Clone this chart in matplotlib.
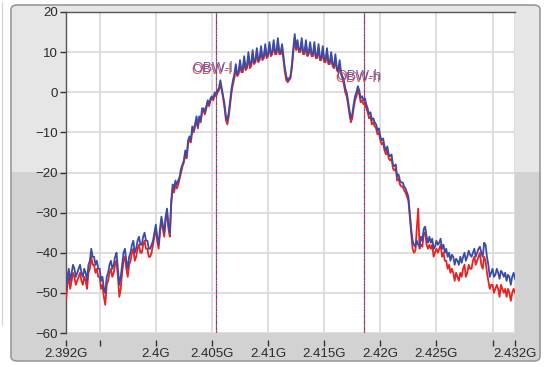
import numpy as np
import matplotlib
matplotlib.use("Agg")
import matplotlib.pyplot as plt
from matplotlib.patches import FancyBboxPatch, Rectangle
from matplotlib.ticker import FixedLocator, FuncFormatter
from matplotlib.transforms import offset_copy

plt.rcParams["font.family"] = ["Liberation Sans", "DejaVu Sans"]

# spectrum sampled every 0.125 MHz from 2.392 GHz to 2.432 GHz
freq_ghz = np.linspace(2.392, 2.432, 321)

trace_blue = [
    -49, -46, -44, -47, -45, -43, -44, -46, -45, -44, -43, -45, -46, -44, -45, -47, -43, -42, -39, -41,
    -41, -43, -42, -44, -44, -47, -46, -49, -50, -46, -45, -43, -42, -44, -43, -41, -40, -44, -48, -46,
    -43, -40, -39, -42, -44, -41, -40, -38, -37, -40, -39, -37, -36, -38, -38, -36, -35, -37, -37, -39,
    -39, -38, -37, -35, -33, -36, -38, -34, -31, -33, -35, -31, -29, -33, -35, -27, -23, -24, -22, -23,
    -22, -21, -19, -18, -17, -14.5, -16, -12, -11, -12, -8.5, -9.5, -8, -6, -8.5, -6, -7, -4, -4, -5,
    -3.5, -2, -3, -1.5, -1, -1.5, 0, -0.5, 0.5, 1, 3, 1, -1, -3, -6, -7, -5, -2, 1, 3,
    4.5, 7, 4.5, 5, 8, 5.5, 6, 9, 6, 6.5, 10, 7, 7, 10.5, 7.5, 8, 11, 8, 8.5, 11.5,
    8.5, 9, 12, 9, 9.5, 12.5, 9.5, 10, 13, 10, 10, 13.5, 10, 10, 12, 9, 6, 4, 3, 3.5,
    4, 7, 11, 14.5, 11, 13, 10.5, 10.5, 13.5, 10, 10, 13, 9.5, 10, 12.5, 9.5, 9.5, 12.5, 9, 9,
    12, 8.5, 8.5, 11.5, 8, 8, 11, 7.5, 7.5, 10, 7, 6.5, 9.5, 6, 5.5, 8, 5, 4, 3, 1,
    0, -2, -4.5, -6.5, -5.5, -3, -1, 0, 1.5, 0.5, -1.5, -1, -2, -1.5, -3, -4, -5.5, -5, -7, -6.5,
    -7.5, -8, -9.5, -9, -11, -12, -11.5, -13.5, -14.5, -13.5, -15.5, -16, -15.5, -18, -18.5, -18, -21, -20.5, -22, -22.5,
    -22.5, -23.5, -24, -25, -26, -30, -34, -37, -38, -38.5, -37, -38, -38.5, -36, -37, -34, -33.5, -36, -37.5, -36,
    -37.5, -36.5, -39, -38.5, -37, -38, -37.5, -36.5, -39, -38, -40, -39, -41, -40, -42, -40.5, -41, -43, -41.5, -42,
    -43, -41, -42.5, -41, -40, -42, -41, -39.5, -40.5, -41, -40, -39, -41, -40, -39, -38.5, -40, -41, -37.5, -38,
    -41, -43, -46, -45, -44, -46, -45.5, -44, -45, -46.5, -44.5, -45, -46, -45, -47, -45.5, -46, -48, -46, -45,
    -46.5,
]

trace_red = [
    -52, -48, -46, -49, -47, -45, -46, -48, -47, -46, -45, -47, -48, -46, -47, -49, -45, -44, -41, -43,
    -43, -45, -44, -46, -46, -49, -48, -51, -53, -48, -47, -45, -44, -46, -45, -43, -42, -46, -51, -49,
    -45, -42, -41, -44, -46, -43, -42, -40, -39, -42, -41, -39, -38, -40, -40, -38, -37, -39, -39, -41,
    -41, -40, -38, -36, -34, -37, -39, -35, -32, -34, -36, -32, -30, -34, -36, -28, -24, -25, -23, -24,
    -23, -21.5, -20, -18.5, -17.5, -15.5, -16.5, -13, -11.5, -12.5, -9.5, -10, -8.5, -7, -9, -6.5, -7.5, -5, -4.5, -5.5,
    -4, -2.5, -3.5, -2, -1.5, -2, -0.5, -1, 0, 0.5, 2, 0.5, -1.5, -4, -7, -8, -6, -3, 0, 2,
    3.5, 6, 4, 4.5, 7, 5, 5, 8, 5.5, 6, 9, 6, 6.5, 9.5, 7, 7.5, 10, 7.5, 8, 10.5,
    8, 8.5, 11, 8.5, 9, 11.5, 9, 9.5, 12, 9.5, 9.5, 12.5, 9.5, 9.5, 11, 8, 5, 3, 2.5, 3,
    3.5, 6, 10, 13.5, 10.5, 12, 10, 10, 12.5, 9.5, 9.5, 12, 9, 9.5, 11.5, 9, 9, 11.5, 8.5, 8.5,
    11, 8, 8, 10.5, 7.5, 7.5, 10, 7, 7, 9, 6.5, 6, 8.5, 5.5, 5, 7, 4.5, 3.5, 2, 0,
    -1, -3, -5.5, -7.5, -6.5, -4, -2, -1, 0.5, -0.5, -2.5, -2, -3, -2.5, -4, -5, -6.5, -6, -8, -7.5,
    -8.5, -9, -10.5, -10, -12, -13, -12.5, -14.5, -15.5, -14.5, -16.5, -17, -16.5, -19, -19.5, -19, -22, -21.5, -23, -23.5,
    -23.5, -24.5, -25, -26, -27, -31, -35, -39, -40, -39.5, -34, -29, -39, -38, -38.5, -35, -35, -38, -39, -38,
    -39, -38, -41, -40, -39, -40, -39, -38, -41, -40, -42, -42, -44, -43, -45, -44, -45, -47, -45, -46,
    -47, -45, -46, -44, -43, -46, -45, -43, -44, -44, -42, -41, -43, -42, -41, -40, -43, -44, -41, -42,
    -45, -47, -49, -48, -48, -50, -49, -48, -49, -51, -48, -49, -50, -49, -51, -49, -50, -52, -50, -49,
    -50,
]

obw_freq = [2.4054, 2.41857]
obw_labels = ["OBW-l", "OBW-h"]
obw_label_y = [6.0, 4.0]
obw_label_x = [2.40325, 2.41605]

x_ticks = [2.392, 2.395, 2.4, 2.405, 2.41, 2.415, 2.42, 2.425, 2.43, 2.432]
x_labels = {2.392: "2.392G", 2.4: "2.4G", 2.405: "2.405G", 2.41: "2.41G",
            2.415: "2.415G", 2.42: "2.42G", 2.425: "2.425G", 2.432: "2.432G"}
y_ticks = [-60, -50, -40, -30, -20, -10, 0, 10, 20]

W, H = 545, 367
fig = plt.figure(figsize=(W / 100, H / 100), dpi=100)
fig.patch.set_facecolor("white")


# panel frame (pixel coords converted to figure fraction)
def fx(px):
    return px / W


def fy(py):
    return 1 - py / H


dark = FancyBboxPatch((fx(11), fy(361)), fx(529), (361 - 5) / H,
                      boxstyle="round,pad=0,rounding_size=0.012",
                      transform=fig.transFigure, facecolor="#d2d2d2",
                      edgecolor="none", zorder=-10)
fig.patches.append(dark)
light_top = FancyBboxPatch((fx(11), fy(60)), fx(529), 55 / H,
                           boxstyle="round,pad=0,rounding_size=0.012",
                           transform=fig.transFigure, facecolor="#e6e6e6",
                           edgecolor="none", zorder=-9)
fig.patches.append(light_top)
light_mid = Rectangle((fx(11), fy(172)), fx(529), (172 - 30) / H,
                      transform=fig.transFigure, facecolor="#e6e6e6",
                      edgecolor="none", zorder=-9)
fig.patches.append(light_mid)
border = FancyBboxPatch((fx(11), fy(361)), fx(529), (361 - 5) / H,
                        boxstyle="round,pad=0,rounding_size=0.012",
                        transform=fig.transFigure, facecolor="none",
                        edgecolor="#9a9a9a", linewidth=1.2, zorder=-8)
fig.patches.append(border)
fig.add_artist(plt.Line2D([fx(2), fx(2)], [fy(325), fy(2)], color="#d0d0d0",
                          linewidth=0.8, transform=fig.transFigure, zorder=-8))

ax = fig.add_axes([fx(66), fy(333), fx(515 - 66), (333 - 12) / H])
ax.set_zorder(5)
ax.set_facecolor("white")

ax.plot(freq_ghz, trace_red, color="#ee2020", linewidth=1.3, zorder=3)
ax.plot(freq_ghz, trace_blue, color="#3a4ca8", linewidth=1.3, zorder=4)

for f in obw_freq:
    ax.axvline(f, color="#ee3030", linewidth=0.9, linestyle=(0, (2.5, 2.5)), zorder=2)
    ax.axvline(f, color="#4050b0", linewidth=0.9, linestyle=(2.5, (2.5, 2.5)), zorder=2)

for lx, ly, lab in zip(obw_label_x, obw_label_y, obw_labels):
    red_tr = offset_copy(ax.transData, fig=fig, x=-1, y=-1.5, units="dots")
    ax.text(lx, ly, lab, color="#e84040", fontsize=10, va="center",
            transform=red_tr, zorder=5, alpha=0.9)
    ax.text(lx, ly, lab, color="#5858a8", fontsize=10, va="center", zorder=5,
            alpha=0.9)

ax.set_xlim(2.392, 2.432)
ax.set_ylim(-60, 20)

ax.xaxis.set_major_locator(FixedLocator(x_ticks))
ax.xaxis.set_major_formatter(FuncFormatter(
    lambda v, p: next((t for k, t in x_labels.items() if abs(k - v) < 1e-6), "")))
ax.yaxis.set_major_locator(FixedLocator(y_ticks))

ax.grid(True, color="#dcdcdc", linewidth=1.3, zorder=0)
ax.set_axisbelow(True)

ax.spines["right"].set_visible(False)
ax.spines["bottom"].set_visible(False)
ax.spines["bottom"].set_position(("outward", 5))
ax.spines["top"].set_color("#555555")
ax.spines["top"].set_linewidth(1.0)
ax.spines["left"].set_color("#555555")
ax.spines["left"].set_linewidth(1.0)

ax.tick_params(axis="x", direction="out", length=4, width=1, color="#333333",
               labelsize=9.5, labelcolor="#2a2a2a", pad=2)
ax.tick_params(axis="y", direction="out", length=4, width=1, color="#333333",
               labelsize=9.5, labelcolor="#2a2a2a", pad=2)

fig.savefig("out.png", dpi=100)
